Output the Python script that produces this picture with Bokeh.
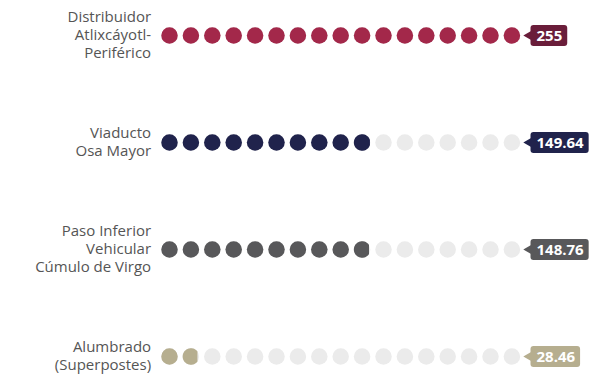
import numpy as np
from bokeh.plotting import figure
from bokeh.models import Range1d
from bokeh.core.properties import value
from bokeh.embed import file_html
from bokeh.resources import INLINE

# ---- data ----
categories = ["Distribuidor\nAtlixcáyotl-\nPeriférico", "Viaducto\nOsa Mayor",
              "Paso Inferior\nVehicular\nCúmulo de Virgo", "Alumbrado\n(Superpostes)"]
values = [255, 149.64, 148.76, 28.46]
value_labels = ["255", "149.64", "148.76", "28.46"]
unit_per_dot = 15
n_dots = 17

dot_colors = ["#A3284A", "#20234C", "#58585A", "#B6AE8F"]
box_colors = ["#6A1D3A", "#20234C", "#58585A", "#B6AE8F"]
empty_color = "#EBEBEB"

# ---- layout constants (pixels) ----
W, H = 590, 379
x0_px, dx_px = 169, 21.4
y0_px, dy_px = 35, 107
dot_d = 16.5

p = figure(width=W, height=H, output_backend="svg", toolbar_location=None,
           min_border=0, outline_line_color=None)
p.x_range = Range1d(-x0_px / dx_px, (W - x0_px) / dx_px)
p.y_range = Range1d(y0_px / dy_px - H / dy_px, y0_px / dy_px)
p.axis.visible = False
p.grid.visible = False
p.background_fill_color = "white"
p.border_fill_color = "white"

rx = dot_d / 2 / dx_px
ry = dot_d / 2 / dy_px

for r, (cat, v) in enumerate(zip(categories, values)):
    y = -r
    filled = v / unit_per_dot
    xs = np.arange(n_dots)
    p.scatter(xs, [y] * n_dots, size=dot_d, color=empty_color, line_color=None)
    full = int(np.floor(filled + 1e-9))
    if full > 0:
        p.scatter(xs[:full], [y] * full, size=dot_d, color=dot_colors[r], line_color=None)
    frac = filled - full
    if frac > 0.02 and full < n_dots:
        cx = xs[full]
        t = np.linspace(0, 2 * np.pi, 80)
        px_ = cx + rx * np.cos(t)
        py_ = y + ry * np.sin(t)
        cut = cx - rx + frac * 2 * rx
        px_ = np.minimum(px_, cut)
        p.patch(px_, py_, color=dot_colors[r], line_color=None)
    # category label
    p.text(x=[-0.86], y=[y], text=[cat], text_align="right", text_baseline="middle",
           y_offset=-1.5,
           text_font=value("Open Sans"), text_font_size="15px", text_color="#555555",
           text_line_height=0.92)
    # value label box with pointer
    bx = n_dots - 1 + 18.6 / dx_px
    p.scatter([bx - 2.0 / dx_px], [y], marker="triangle", angle=np.pi / 2, size=9,
              color=box_colors[r], line_color=None)
    p.text(x=[bx], y=[y], text=[value_labels[r]], text_align="left", text_baseline="middle",
           text_font=value("Open Sans"), text_font_style="bold",
           text_font_size="15px", text_color="white",
           background_fill_color=box_colors[r], border_radius=3, padding=[6, 5, 6, 5])

open("out.html", "w").write(file_html(p, INLINE))
